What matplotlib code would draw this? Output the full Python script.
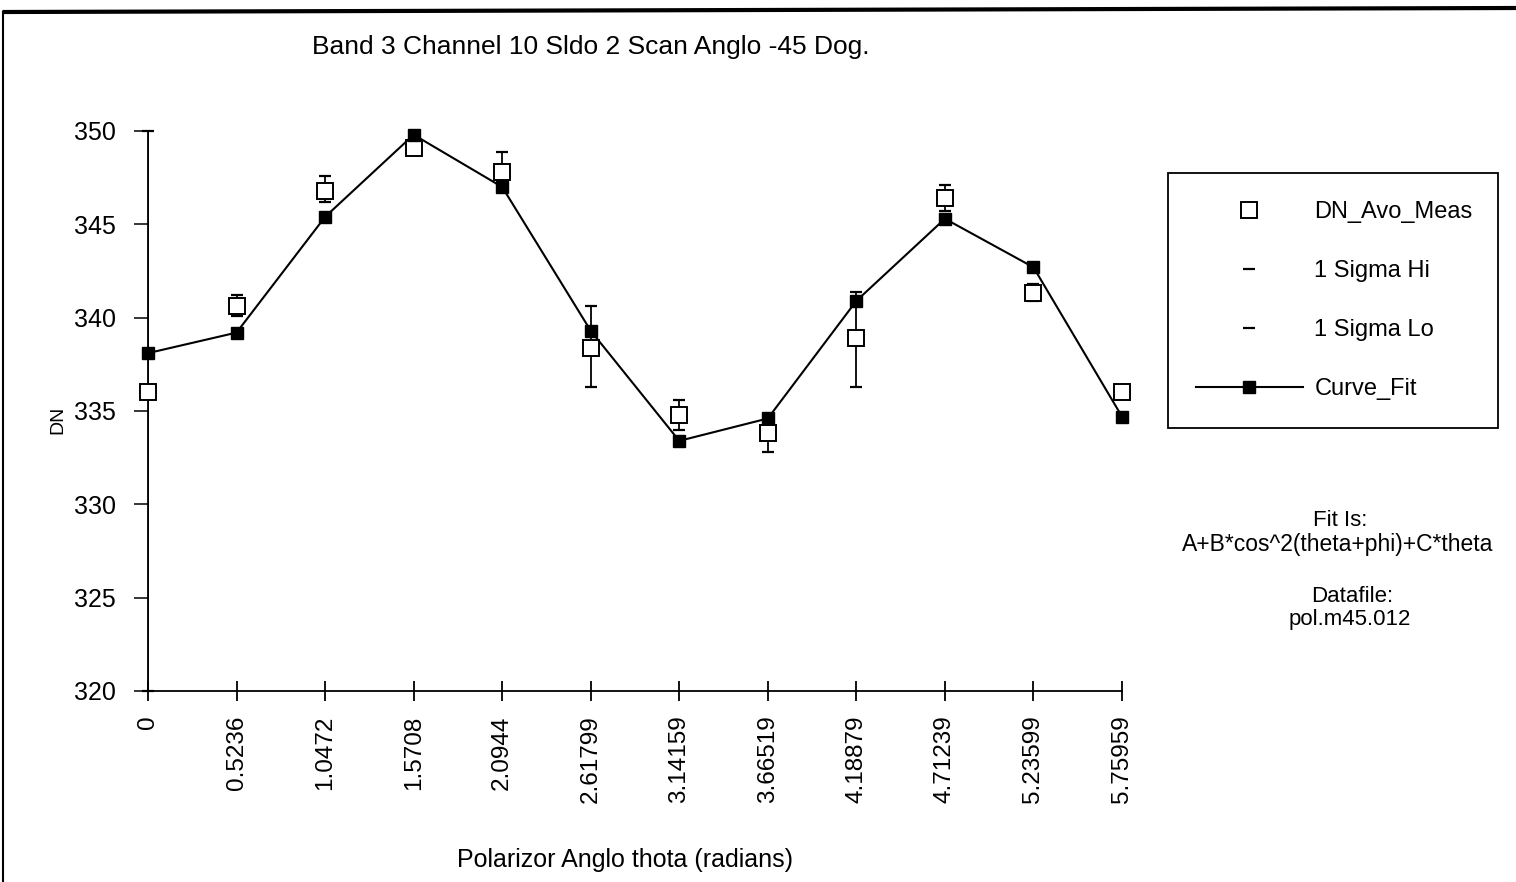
import matplotlib
matplotlib.use("Agg")
import matplotlib.pyplot as plt
from matplotlib.lines import Line2D

plt.rcParams['font.family'] = ['Liberation Sans', 'DejaVu Sans']

# Polarizer angle (radians) and tick labels
theta = [0.0, 0.5236, 1.0472, 1.5708, 2.0944, 2.61799,
         3.14159, 3.66519, 4.18879, 4.71239, 5.23599, 5.75959]
theta_labels = ["0", "0.5236", "1.0472", "1.5708", "2.0944", "2.61799",
                "3.14159", "3.66519", "4.18879", "4.71239", "5.23599", "5.75959"]

# Measured average DN with 1-sigma bounds
dn_meas = [336.0, 340.6, 346.8, 349.1, 347.8, 338.4,
           334.8, 333.8, 338.9, 346.4, 341.3, 336.0]
sigma_hi = [350.0, 341.2, 347.6, 349.6, 348.9, 340.6,
            335.6, 334.6, 341.4, 347.1, 341.8, 336.3]
sigma_lo = [320.0, 340.1, 346.2, 348.8, 347.0, 336.3,
            334.0, 332.8, 336.3, 345.7, 340.9, 335.7]

# Fitted curve values
curve_fit = [338.1, 339.2, 345.4, 349.8, 347.0, 339.3,
             333.4, 334.6, 340.9, 345.3, 342.7, 334.7]

fig = plt.figure(figsize=(15.16, 8.82), dpi=100)
ax = fig.add_axes([148 / 1516, 1 - 691 / 882, (1122 - 148) / 1516, (691 - 131) / 882])

# error bars: vertical hi-lo lines with short caps
ax.vlines(theta, sigma_lo, sigma_hi, colors='black', linewidth=1.3, zorder=2)
ax.plot(theta, sigma_hi, linestyle='none', marker='_', markersize=9,
        markeredgewidth=1.6, color='black', zorder=3, label='1 Sigma Hi', clip_on=False)
ax.plot(theta, sigma_lo, linestyle='none', marker='_', markersize=9,
        markeredgewidth=1.6, color='black', zorder=3, label='1 Sigma Lo', clip_on=False)

ax.plot(theta, curve_fit, color='black', linewidth=1.5, marker='s', markersize=8.5,
        markerfacecolor='black', markeredgecolor='black', zorder=5, label='Curve_Fit',
        clip_on=False)
ax.plot(theta, dn_meas, linestyle='none', marker='s', markersize=11,
        markerfacecolor='white', markeredgecolor='black', markeredgewidth=1.4,
        zorder=4, label='DN_Avo_Meas', clip_on=False)

ax.set_xlim(theta[0], theta[-1])
ax.set_ylim(320, 350)
ax.set_xticks(theta)
ax.set_xticklabels(theta_labels, rotation=90)
ax.set_yticks([320, 325, 330, 335, 340, 345, 350])

for side in ('top', 'right'):
    ax.spines[side].set_visible(False)
for side in ('left', 'bottom'):
    ax.spines[side].set_linewidth(1.3)

ax.tick_params(axis='y', direction='out', length=10, width=1.1, pad=13, labelsize=18)
ax.tick_params(axis='x', direction='inout', length=15, width=1.3, pad=10, labelsize=17.5)

# legend in its own frame to the right of the plot
handles, labels = ax.get_legend_handles_labels()
order = [labels.index(n) for n in ['DN_Avo_Meas', '1 Sigma Hi', '1 Sigma Lo', 'Curve_Fit']]
leg = fig.legend([handles[i] for i in order], [labels[i] for i in order],
                 loc='upper left',
                 bbox_to_anchor=(1168 / 1516, 1 - 173 / 882, (1498 - 1168) / 1516, 0.0),
                 bbox_transform=fig.transFigure, mode='expand',
                 numpoints=1, handlelength=4.5, handletextpad=0.5,
                 labelspacing=1.56, borderpad=1.2, borderaxespad=0.0,
                 fancybox=False, framealpha=1.0, edgecolor='black',
                 fontsize=17)
leg.get_frame().set_linewidth(1.3)

# titles and annotations
fig.text(591 / 1516, 1 - 47 / 882, "Band 3 Channel 10 Sldo 2 Scan Anglo -45 Dog.",
         ha='center', va='center', fontsize=19)
fig.text(625 / 1516, 1 - 860 / 882, "Polarizor Anglo thota (radians)",
         ha='center', va='center', fontsize=18)
fig.text(58 / 1516, 1 - 420 / 882, "DN", rotation=90,
         ha='center', va='center', fontsize=14)

fig.text(1340 / 1516, 1 - 520 / 882, "Fit Is:", ha='center', va='center', fontsize=16)
fig.text(1338 / 1516, 1 - 545 / 882, "A+B*cos^2(theta+phi)+C*theta",
         ha='center', va='center', fontsize=16.5)
fig.text(1352 / 1516, 1 - 597 / 882, "Datafile:", ha='center', va='center', fontsize=16)
fig.text(1350 / 1516, 1 - 620 / 882, "pol.m45.012", ha='center', va='center', fontsize=16)

# page border along top and left edge
fig.add_artist(Line2D([0.003, 1.0], [1 - 12 / 882, 1 - 8 / 882],
                      transform=fig.transFigure, color='black', linewidth=3))
fig.add_artist(Line2D([3 / 1516, 3 / 1516], [0.0, 1 - 12 / 882],
                      transform=fig.transFigure, color='black', linewidth=1.5))

fig.savefig("out.png", dpi=100, facecolor='white')
